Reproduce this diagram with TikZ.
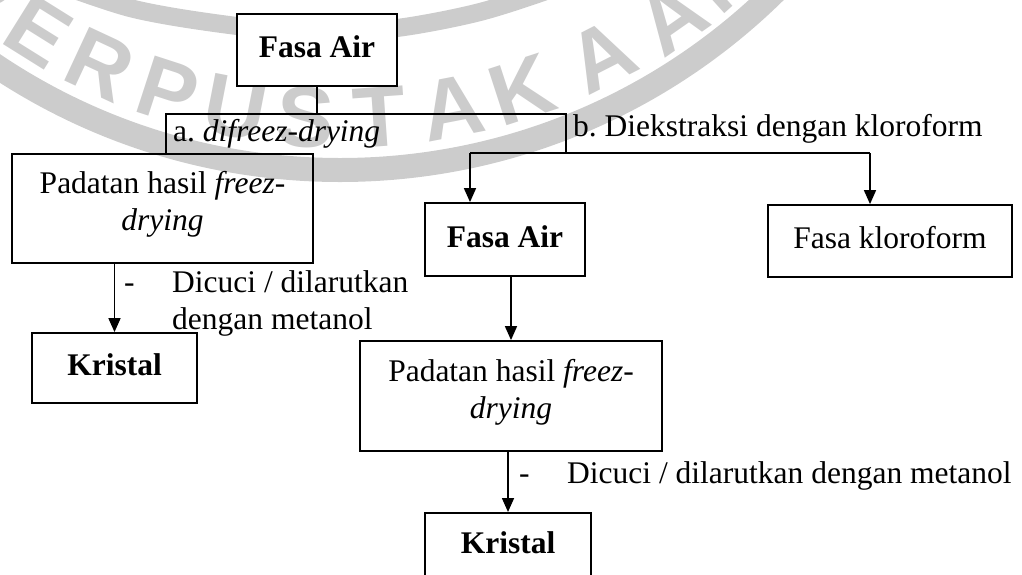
\documentclass[tikz,border=0pt]{standalone}
\usepackage{fontspec}
\setmainfont{Liberation Serif}
\newfontfamily\wmfont{Liberation Sans}
\usetikzlibrary{arrows.meta}
\definecolor{wmgrey}{RGB}{204,204,204}
\frenchspacing
\begin{document}
\begin{tikzpicture}[x=1pt,y=-1pt,
  txt/.style={font=\fontsize{31.5}{37}\selectfont},
  box/.style={draw, line width=1.8pt, inner sep=0pt, txt, text height=22pt, text depth=7pt},
  mbox/.style={draw, line width=1.8pt, inner sep=0pt, txt, align=center},
  lbl/.style={inner sep=0pt, anchor=base west, txt},
  conn/.style={line width=1.6pt},
  arr/.style={conn, -{Triangle[length=14pt,width=12pt]}},
  wm/.style={text=wmgrey, inner sep=0pt, font=\wmfont\bfseries\fontsize{86}{86}\selectfont},
  ring/.style={draw=wmgrey}]
\useasboundingbox (0,0) rectangle (1022,574);
% watermark
\draw[ring, line width=24pt] (340,-450) circle[radius=620pt];
\draw[ring, line width=18pt] plot[smooth] coordinates {(20,-30) (130,8) (237,26) (320,32) (397,28) (480,12) (560,-14) (620,-40)};
\node[wm, rotate=-39] (wP0) at (-19,-10) {P};
\node[wm, rotate=-32] (wE) at (39,32) {E};
\node[wm, rotate=-25] (wR) at (100,65) {R};
\node[wm, rotate=-18] (wP) at (168,91) {P};
\node[wm, rotate=-11] (wU) at (236,108) {U};
\node[wm, rotate=-3] (wS) at (306,117) {S};
\node[wm, rotate=4] (wT) at (380,117) {T};
\node[wm, rotate=11] (wA1) at (452,108) {A};
\node[wm, rotate=18] (wK) at (522,90) {K};
\node[wm, rotate=27] (wA2) at (602,56) {A};
\node[wm, rotate=35] (wA3) at (672,17) {A};
\node[wm, rotate=42] (wN) at (724,-25) {N};
% boxes
\node[box, fill=white, minimum width=160pt, minimum height=72pt] (fa1) at (317,50) {\textbf{Fasa Air}};
\node[mbox, minimum width=301pt, minimum height=109pt] (pad1) at (162.5,208.5) {Padatan hasil \textit{freez-}\\\textit{drying}\rule[-15pt]{0pt}{1pt}};
\node[box, minimum width=160pt, minimum height=73pt] (fa2) at (505,239.5) {\textbf{Fasa Air}};
\node[box, minimum width=244pt, minimum height=72pt] (fk) at (890,241) {Fasa kloroform};
\node[box, minimum width=165pt, minimum height=70pt] (kr1) at (114.5,368) {\textbf{Kristal}};
\node[mbox, minimum width=302pt, minimum height=110pt] (pad2) at (511,396) {Padatan hasil \textit{freez-}\\\textit{drying}\rule[-15pt]{0pt}{1pt}};
\node[box, anchor=north, minimum width=166pt, minimum height=67pt] (kr2) at (508,512) {\textbf{Kristal}};
% connectors
\coordinate (hl) at (166,114);
\coordinate (hr) at (566,114);
\coordinate (bl) at (470,153);
\coordinate (br) at (566,153);
\coordinate (bk) at (870,153);
\draw[conn] (fa1.south) -- (fa1.south |- hl);
\draw[conn] (pad1.north -| hl) -- (hl) -- (hr) -- (br);
\draw[conn] (bl) -- (bk);
\draw[arr] (bl) -- (bl |- fa2.north);
\draw[arr] (bk) -- (bk |- fk.north);
\draw[arr] (kr1.north |- pad1.south) -- (kr1.north);
\draw[arr] (pad2.north |- fa2.south) -- (pad2.north);
\draw[arr] (kr2.north |- pad2.south) -- (kr2.north);
% labels
\node[lbl] (la) at (173,141) {a. \textit{difreez-drying}};
\node[lbl] (lb) at (573,136) {b. Diekstraksi dengan kloroform};
\node[lbl] (d1) at (124,292) {-};
\node[lbl] (w1a) at (172,292) {Dicuci / dilarutkan};
\node[lbl] (w1b) at (172,329) {dengan metanol};
\node[lbl] (d2) at (519,483) {-};
\node[lbl] (w2) at (567,483) {Dicuci / dilarutkan dengan metanol};
\end{tikzpicture}
\end{document}
